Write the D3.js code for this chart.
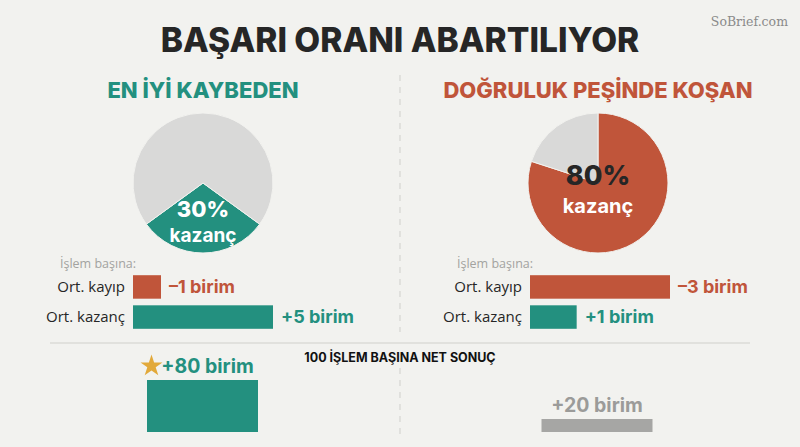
<!DOCTYPE html>
<html>
<head>
<meta charset="utf-8">
<script src="https://cdn.jsdelivr.net/npm/d3@7"></script>
<style>
  html, body { margin: 0; padding: 0; background: #f2f2ef; }
  svg { display: block; }
</style>
</head>
<body>
<div id="chart"></div>
<script>
// data
const panelTitles = ['EN İYİ KAYBEDEN', 'DOĞRULUK PEŞİNDE KOŞAN'];
const winRates = [30, 80];
const avgLoss = [1, 3];
const avgWin = [5, 1];
const netResults = [80, 20];
const rowLabels = ['Ort. kayıp', 'Ort. kazanç'];

const width = 800;
const height = 447;
const teal = '#23907f';
const orange = '#c0553a';
const pieGray = '#d9d9d8';
const dark = '#262626';
const headFont = 'Inter, "Open Sans", sans-serif';
const bodyFont = '"Open Sans", Lato, sans-serif';

const svg = d3.select('#chart')
  .append('svg')
  .attr('width', width)
  .attr('height', height);

svg.append('rect')
  .attr('width', width)
  .attr('height', height)
  .attr('fill', '#f2f2ef');

// header
svg.append('text')
  .attr('x', 400)
  .attr('y', 52)
  .attr('text-anchor', 'middle')
  .attr('font-family', headFont)
  .attr('font-weight', 800)
  .attr('font-size', 33.5)
  .attr('fill', dark)
  .text('BAŞARI ORANI ABARTILIYOR');

svg.append('text')
  .attr('x', 788)
  .attr('y', 26)
  .attr('text-anchor', 'end')
  .attr('font-family', '"DejaVu Serif", "Liberation Serif", serif')
  .attr('font-size', 12.5)
  .attr('fill', '#8a8a8a')
  .text('SoBrief.com');

// dividers
svg.append('line')
  .attr('x1', 400).attr('x2', 400)
  .attr('y1', 75).attr('y2', 332)
  .attr('stroke', '#cfcfcb')
  .attr('stroke-dasharray', '6,6');

svg.append('line')
  .attr('x1', 400).attr('x2', 400)
  .attr('y1', 368).attr('y2', 436)
  .attr('stroke', '#cfcfcb')
  .attr('stroke-dasharray', '6,6');

svg.append('line')
  .attr('x1', 50).attr('x2', 750)
  .attr('y1', 343).attr('y2', 343)
  .attr('stroke', '#cfcfcb')
  .attr('stroke-width', 1.2);

const centers = [203, 598];
const barOrigins = [133, 530];
const titleColors = [teal, orange];

const arc = d3.arc().innerRadius(0).outerRadius(70);

panelTitles.forEach((title, i) => {
  const cx = centers[i];

  svg.append('text')
    .attr('x', cx)
    .attr('y', 98)
    .attr('text-anchor', 'middle')
    .attr('font-family', headFont)
    .attr('font-weight', 800)
    .attr('font-size', 22)
    .attr('fill', titleColors[i])
    .text(title);

  // pie: win share first; left one centred on the bottom, right one starting at 12 o'clock
  const win = winRates[i];
  const start = i === 0 ? Math.PI - (win / 100) * Math.PI : 0;
  const pie = d3.pie()
    .sort(null)
    .value((d) => d.value)
    .startAngle(start)
    .endAngle(start + 2 * Math.PI);

  const slices = pie([
    { key: 'win', value: win },
    { key: 'loss', value: 100 - win },
  ]);

  const g = svg.append('g').attr('transform', `translate(${cx}, 183)`);
  g.selectAll('path')
    .data(slices)
    .join('path')
    .attr('d', arc)
    .attr('fill', (d) => (d.data.key === 'win' ? (i === 0 ? teal : orange) : pieGray))
    .attr('stroke', '#f2f2ef')
    .attr('stroke-width', 1);

  g.append('text')
    .attr('x', 0)
    .attr('y', (i === 0 ? 217 : 185) - 183)
    .attr('text-anchor', 'middle')
    .attr('font-family', headFont)
    .attr('font-weight', 800)
    .attr('font-size', i === 0 ? 22 : 27)
    .attr('fill', i === 0 ? '#fff' : dark)
    .text(`${win}%`);

  g.append('text')
    .attr('x', 0)
    .attr('y', (i === 0 ? 242 : 213) - 183)
    .attr('text-anchor', 'middle')
    .attr('font-family', headFont)
    .attr('font-weight', 700)
    .attr('font-size', i === 0 ? 19 : 20)
    .attr('fill', '#fff')
    .text('kazanç');

  // per-trade bars
  const x0 = barOrigins[i];
  const values = [avgLoss[i], avgWin[i]];
  const x = d3.scaleLinear()
    .domain([0, d3.max(values)])
    .range([0, 140]);
  const y = d3.scaleBand()
    .domain(rowLabels)
    .range([274, 330])
    .paddingInner(0.22)
    .paddingOuter(0.04);

  svg.append('text')
    .attr('x', x0 - 73)
    .attr('y', 268)
    .attr('font-family', bodyFont)
    .attr('font-size', 12.5)
    .attr('fill', '#a3a3a0')
    .text('İşlem başına:');

  rowLabels.forEach((label, j) => {
    const v = values[j];
    const col = j === 0 ? orange : teal;
    const yy = y(label);
    const mid = yy + y.bandwidth() / 2;

    svg.append('text')
      .attr('x', x0 - 8)
      .attr('y', mid)
      .attr('dy', '0.35em')
      .attr('text-anchor', 'end')
      .attr('font-family', bodyFont)
      .attr('font-size', 15)
      .attr('fill', dark)
      .text(label);

    svg.append('rect')
      .attr('x', x0)
      .attr('y', yy)
      .attr('width', x(v))
      .attr('height', y.bandwidth())
      .attr('fill', col);

    svg.append('text')
      .attr('x', x0 + x(v) + 8)
      .attr('y', mid)
      .attr('dy', '0.35em')
      .attr('font-family', headFont)
      .attr('font-weight', 700)
      .attr('font-size', 18)
      .attr('fill', col)
      .text(`${j === 0 ? '–' : '+'}${v} birim`);
  });
});

// net result per 100 trades
svg.append('text')
  .attr('x', 400)
  .attr('y', 362)
  .attr('text-anchor', 'middle')
  .attr('font-family', headFont)
  .attr('font-weight', 700)
  .attr('font-size', 12.5)
  .attr('fill', '#111')
  .text('100 İŞLEM BAŞINA NET SONUÇ');

const netY = d3.scaleLinear()
  .domain([0, d3.max(netResults)])
  .range([432, 380]);
const netColors = [teal, '#a6a6a4'];
const labelColors = [teal, '#9b9b99'];
const netCenters = [202.5, 597];
const barW = 111;

netResults.forEach((v, i) => {
  const cx = netCenters[i];
  svg.append('rect')
    .attr('x', cx - barW / 2)
    .attr('y', netY(v))
    .attr('width', barW)
    .attr('height', netY(0) - netY(v))
    .attr('fill', netColors[i]);

  const best = v === d3.max(netResults);
  svg.append('text')
    .attr('x', best ? cx + 5 : cx)
    .attr('y', netY(v) - 7)
    .attr('text-anchor', 'middle')
    .attr('font-family', headFont)
    .attr('font-weight', 700)
    .attr('font-size', 19.5)
    .attr('fill', labelColors[i])
    .text(`+${v} birim`);

  if (best) {
    svg.append('path')
      .attr('d', d3.symbol(d3.symbolStar).size(150)())
      .attr('transform', `translate(${cx - 51}, ${netY(v) - 14})`)
      .attr('fill', '#e2a93a');
  }
});
</script>
</body>
</html>
